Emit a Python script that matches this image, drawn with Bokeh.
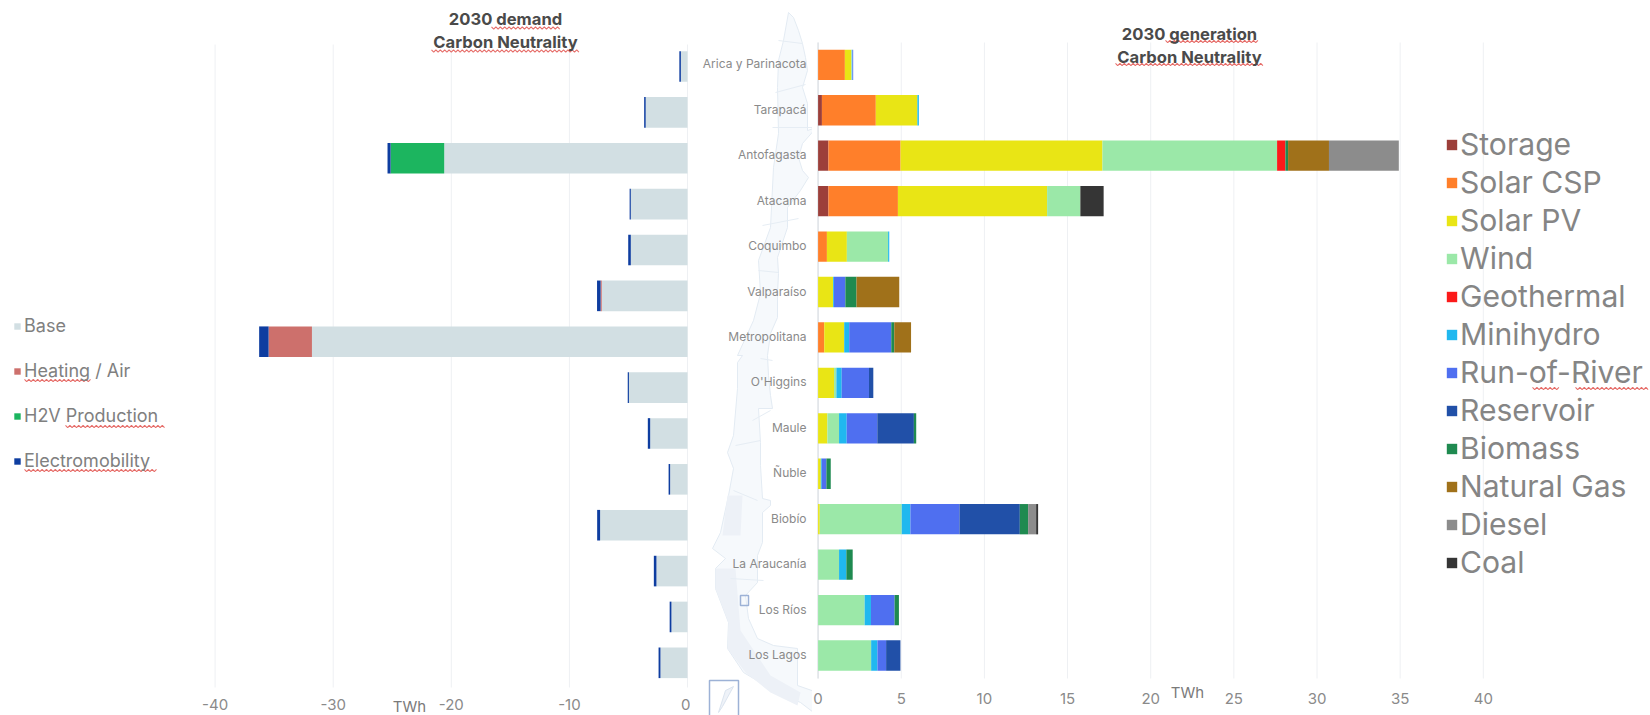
from bokeh.plotting import figure
from bokeh.layouts import row
from bokeh.models import Range1d, FixedTicker, Label, Legend, LegendItem, ColumnDataSource
from bokeh.embed import file_html
from bokeh.resources import INLINE
from bokeh.core.properties import value

REGIONS = ["Arica y Parinacota", "Tarapacá", "Antofagasta", "Atacama", "Coquimbo", "Valparaíso",
           "Metropolitana", "O'Higgins", "Maule", "Ñuble", "Biobío", "La Araucanía", "Los Ríos", "Los Lagos"]

BASE = [-.56, -3.54, -20.6, -4.8, -4.8, -7.26, -31.8, -4.96, -3.16, -1.47, -7.4, -2.63, -1.36, -2.29]
HEATING = [0, 0, 0, 0, 0, -.1, -3.67, 0, 0, 0, 0, 0, 0, 0]
H2V = [0, 0, -4.54, 0, 0, 0, 0, 0, 0, 0, 0, 0, 0, 0]
ELECTRO = [-.13, -.13, -.26, -.1, -.22, -.3, -.8, -.1, -.2, -.13, -.25, -.22, -.15, -.16]
DEMAND_NAMES = ["Base", "Heating / Air", "H2V Production", "Electromobility"]
DEMAND_COLORS = ["#d2dfe3", "#cd706c", "#1cb55f", "#0e3da0"]

STORAGE = [0, .23, .62, .62, 0, 0, 0, 0, 0, 0, 0, 0, 0, 0]
CSP = [1.61, 3.24, 4.34, 4.18, .53, 0, .37, 0, 0, 0, 0, 0, 0, 0]
PV = [.39, 2.5, 12.14, 8.97, 1.2, .9, 1.2, .96, .56, .16, .1, 0, 0, 0]
WIND = [.03, 0, 10.5, 2.0, 2.48, 0, 0, .14, .7, 0, 4.93, 1.26, 2.8, 3.19]
GEO = [0, 0, .5, 0, 0, 0, 0, 0, 0, 0, 0, 0, 0, 0]
MINI = [.03, .09, 0, 0, .07, .05, .3, .32, .46, .06, .52, .44, .38, .38]
ROR = [.05, 0, 0, 0, 0, .69, 2.53, 1.64, 1.84, .28, 2.95, 0, 1.42, .52]
RESERVOIR = [0, 0, 0, 0, 0, 0, 0, .26, 2.2, 0, 3.63, 0, 0, .86]
BIOMASS = [0, 0, .16, 0, 0, .67, .18, 0, .14, .26, .5, .38, .26, 0]
GAS = [0, 0, 2.46, 0, 0, 2.57, 1.01, 0, 0, 0, 0, 0, 0, 0]
DIESEL = [0, 0, 4.2, 0, 0, 0, 0, 0, 0, 0, .48, 0, 0, 0]
COAL = [0, 0, 0, 1.4, 0, 0, 0, 0, 0, 0, .12, 0, 0, 0]
GEN_NAMES = ["Storage", "Solar CSP", "Solar PV", "Wind", "Geothermal", "Minihydro", "Run-of-River",
             "Reservoir", "Biomass", "Natural Gas", "Diesel", "Coal"]
GEN_SERIES = [STORAGE, CSP, PV, WIND, GEO, MINI, ROR, RESERVOIR, BIOMASS, GAS, DIESEL, COAL]
GEN_COLORS = ["#9c3f3a", "#ff7f2a", "#e9e515", "#9be8a8", "#fb1a1a", "#20b8ef", "#4f6ff0", "#2150a8",
              "#1f8a50", "#a0711a", "#8c8c8c", "#353535"]

LEFT_TICKS = [-40, -30, -20, -10, 0]
RIGHT_TICKS = [0, 5, 10, 15, 20, 25, 30, 35, 40]

# Decorative map backdrop, traced in page pixels
MAP_X = [788, 793, 798, 802, 805, 807, 802, 807, 807, 816, 802, 798, 802, 808, 800, 787, 787, 777, 778, 777, 777,
         770, 767, 768, 770, 772, 758, 760, 760, 762, 770, 770, 762, 762, 757, 757, 745, 748, 757, 773, 797, 797,
         817, 830, 830, 817, 800, 770, 743, 727, 728, 715, 715, 725, 712, 720, 728, 733, 727, 733, 737, 737, 742,
         737, 753, 760, 758, 770, 773, 778, 777, 778, 783]
MAP_Y = [12, 17, 30, 43, 57, 70, 87, 103, 130, 127, 143, 157, 170, 177, 190, 207, 227, 257, 273, 293, 317,
         333, 355, 375, 395, 408, 408, 442, 465, 498, 500, 505, 512, 542, 555, 582, 595, 618, 638, 645, 648, 685,
         692, 702, 715, 715, 702, 688, 672, 648, 622, 588, 568, 558, 548, 532, 495, 468, 452, 435, 388, 362, 355,
         355, 320, 293, 260, 227, 167, 133, 87, 60, 40, 17]
MAP_X = MAP_X[:len(MAP_Y)]
MAP_Y = MAP_Y[:len(MAP_X)]
FJORD_X = [715, 735, 740, 770, 800, 797, 770, 745, 727, 728, 715]
FJORD_Y = [568, 568, 630, 675, 692, 705, 692, 672, 648, 622, 588]
FJORD2_X = [727, 742, 740, 722]
FJORD2_Y = [495, 495, 535, 535]
BORDER_XS = [[778, 802], [775, 805], [772, 815], [762, 798], [758, 778], [760, 772], [752, 770], [735, 760],
             [733, 757], [730, 763]]
BORDER_YS = [[40, 43], [92, 84], [127, 127], [225, 218], [270, 272], [358, 360], [420, 410], [445, 440],
             [490, 500], [578, 580]]

TITLE_FONT = "Inter"
LABEL_FONT = "Inter"


def ly(py):
    return (py - 66.0) / 45.87


def ry(py):
    return (py - 64.3) / 45.44


def lx(px):
    return (px - 687.0) / 11.81


def rx(px):
    return (px - 817.6) / 16.63


def squiggle(p, conv_x, conv_y, x0, x1, py):
    xs, ys, x, k = [], [], x0, 0
    while x <= x1:
        xs.append(conv_x(x))
        ys.append(conv_y(py + (1.1 if k % 2 else -1.1)))
        x += 2.2
        k += 1
    p.line(xs, ys, line_color="#e2544f", line_width=1.1, line_alpha=.85)


def add_text(p, conv_x, conv_y, text, px, py, size, color, bold=False, align="center"):
    p.add_layout(Label(x=conv_x(px), y=conv_y(py), text=text, text_font=TITLE_FONT,
                       text_font_size=f"{size}px", text_color=color, text_align=align,
                       text_baseline="middle", text_font_style="bold" if bold else "normal"))


# ------------------ left: demand
left = figure(width=690, height=715, output_backend="svg", toolbar_location=None,
              x_range=Range1d(lx(0), lx(690)), y_range=Range1d(ly(715), ly(0)),
              min_border_left=0, min_border_right=0, min_border_top=0, min_border_bottom=0,
              outline_line_color=None)
left.frame_align = False
left.yaxis.visible = False
left.grid.visible = False
left.segment(LEFT_TICKS, ly(44), LEFT_TICKS, ly(687), line_color="#eef0f3", line_width=1)
src = {"y": list(range(len(REGIONS))), "Base": BASE, "Heating / Air": HEATING,
       "H2V Production": H2V, "Electromobility": ELECTRO}
rs = left.hbar_stack(DEMAND_NAMES, y="y", height=30.6 / 45.87, color=DEMAND_COLORS, line_color=None,
                     source=ColumnDataSource(src))
lg = Legend(items=[LegendItem(label=n, renderers=[r]) for n, r in zip(DEMAND_NAMES, rs)],
            location=(13, 244), orientation="vertical", glyph_width=8, glyph_height=8,
            label_text_font=LABEL_FONT, label_text_font_size="18px", label_text_color="#808080",
            label_standoff=3, spacing=24, padding=0, margin=0, border_line_color=None,
            background_fill_alpha=0)
left.add_layout(lg)
ax = left.xaxis[0]
ax.ticker = FixedTicker(ticks=LEFT_TICKS)
ax.major_label_overrides = {t: str(t) for t in LEFT_TICKS}
ax.axis_line_color = None
ax.major_tick_line_color = None
ax.minor_tick_line_color = None
ax.major_label_text_color = "#8a8a8a"
ax.major_label_text_font = LABEL_FONT
ax.major_label_text_font_size = "15px"
ax.major_label_standoff = -23
add_text(left, lx, ly, "2030 demand", 505, 18, 16.6, "#4a4a4a", bold=True)
add_text(left, lx, ly, "Carbon Neutrality", 505, 41, 16.6, "#4a4a4a", bold=True)
add_text(left, lx, ly, "TWh", 409, 706, 15, "#7a7a7a")
for x0, x1, py in [(491, 560, 27.5), (431, 579, 50.5), (24, 92, 380), (65, 164, 426), (24, 158, 470)]:
    squiggle(left, lx, ly, x0, x1, py)

# ------------------ centre: map and region names
centre = figure(width=122, height=715, output_backend="svg", toolbar_location=None,
                x_range=Range1d(690, 812), y_range=Range1d(ry(715), ry(0)),
                min_border_left=0, min_border_right=0, min_border_top=0, min_border_bottom=0,
                outline_line_color=None)
centre.frame_align = False
centre.axis.visible = False
centre.grid.visible = False
centre.patch(MAP_X, [ry(v) for v in MAP_Y], fill_color="#f6f9fc", line_color="#e3ebf3", line_width=1)
centre.patch(FJORD_X, [ry(v) for v in FJORD_Y], fill_color="#edf1f7", line_color=None)
centre.patch(FJORD2_X, [ry(v) for v in FJORD2_Y], fill_color="#edf1f7", line_color=None)
centre.multi_line(BORDER_XS, [[ry(v) for v in s] for s in BORDER_YS], line_color="#e6edf4", line_width=1)
centre.quad(left=[740], right=[748], top=[ry(595)], bottom=[ry(605)], fill_color=None,
            line_color="#9db2d6", line_width=1.5)
centre.quad(left=[709], right=[738], top=[ry(680)], bottom=[ry(716)], fill_color="#ffffff",
            line_color="#9db2d6", line_width=1.5)
centre.patch([725, 733, 722, 718], [ry(v) for v in [690, 686, 706, 712]], fill_color="#eef2f8",
             line_color="#dbe4ef")
centre.text(x=[806] * len(REGIONS), y=[i - 1 / 45.44 for i in range(len(REGIONS))], text=REGIONS,
            text_align="right", text_baseline="middle", text_font=value(LABEL_FONT),
            text_font_size="12px", text_color="#8a8a8a")

# ------------------ right: generation
right = figure(width=838, height=715, output_backend="svg", toolbar_location=None,
               x_range=Range1d(rx(812), rx(1650)), y_range=Range1d(ry(715), ry(0)),
               min_border_left=0, min_border_right=0, min_border_top=0, min_border_bottom=0,
               outline_line_color=None)
right.frame_align = False
right.yaxis.visible = False
right.grid.visible = False
right.segment(RIGHT_TICKS, ry(42), RIGHT_TICKS, ry(678), line_color="#eef0f3", line_width=1)
right.segment([0], ry(42), [0], ry(678), line_color="#dfe3e8", line_width=1.5)
src = dict(zip(GEN_NAMES, GEN_SERIES))
src["y"] = list(range(len(REGIONS)))
rs = right.hbar_stack(GEN_NAMES, y="y", height=30.3 / 45.44, color=GEN_COLORS, line_color=None,
                      source=ColumnDataSource(src))
lg = Legend(items=[LegendItem(label=n, renderers=[r]) for n, r in zip(GEN_NAMES, rs)],
            location=(633, 135), orientation="vertical", glyph_width=13, glyph_height=13,
            label_text_font=LABEL_FONT, label_text_font_size="30.1px", label_text_color="#858585",
            label_standoff=2, spacing=2, padding=0, margin=0, border_line_color=None,
            background_fill_alpha=0)
right.add_layout(lg)
ax = right.xaxis[0]
ax.ticker = FixedTicker(ticks=RIGHT_TICKS)
ax.axis_line_color = None
ax.major_tick_line_color = None
ax.minor_tick_line_color = None
ax.major_label_text_color = "#8a8a8a"
ax.major_label_text_font = LABEL_FONT
ax.major_label_text_font_size = "15px"
ax.major_label_standoff = -29
add_text(right, rx, ry, "2030 generation", 1189, 33, 16.6, "#4a4a4a", bold=True)
add_text(right, rx, ry, "Carbon Neutrality", 1189, 56, 16.6, "#4a4a4a", bold=True)
add_text(right, rx, ry, "TWh", 1187, 692, 15, "#7a7a7a")
for x0, x1, py in [(1165, 1258, 41), (1115, 1264, 64), (1532, 1560, 388), (1575, 1648, 388)]:
    squiggle(right, rx, ry, x0, x1, py)

layout = row(left, centre, right, spacing=0)
open("out.html", "w").write(file_html(layout, INLINE))
